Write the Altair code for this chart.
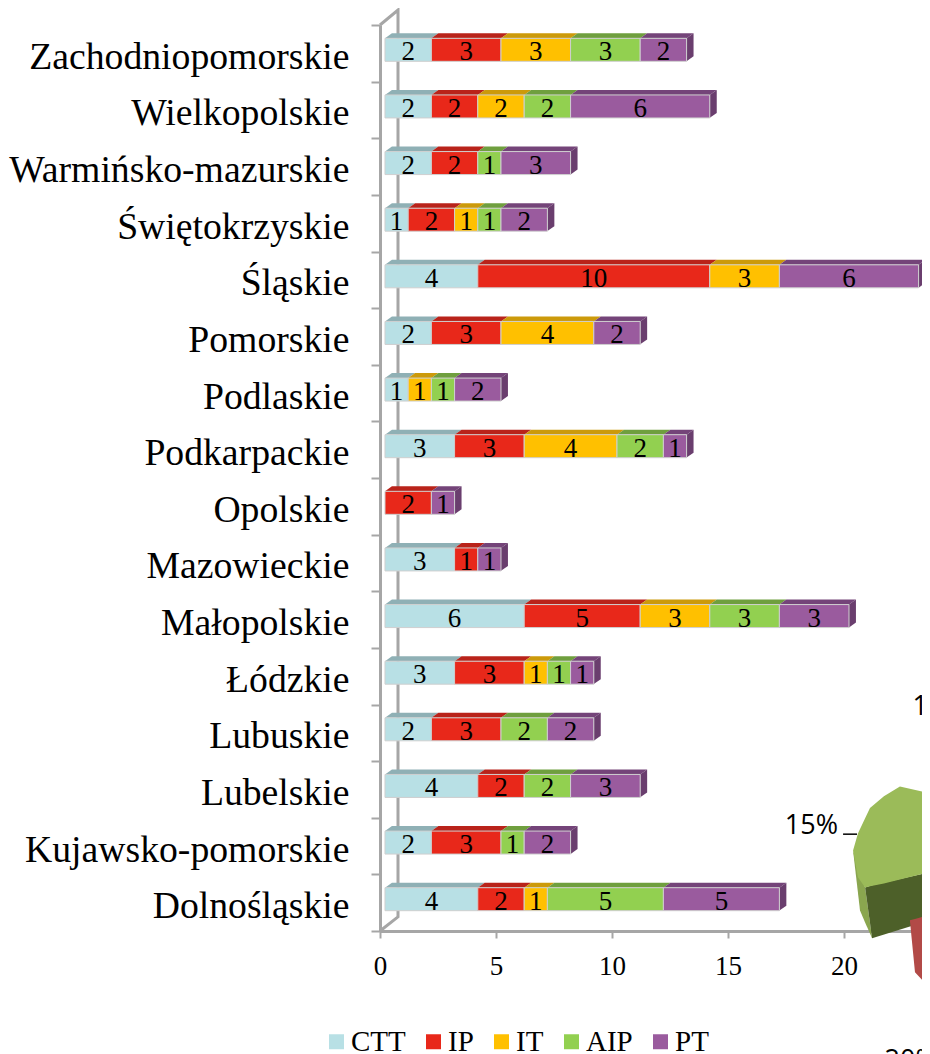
import altair as alt
import pandas as pd

regions = ["Zachodniopomorskie", "Wielkopolskie", "Warmińsko-mazurskie", "Świętokrzyskie",
           "Śląskie", "Pomorskie", "Podlaskie", "Podkarpackie", "Opolskie", "Mazowieckie",
           "Małopolskie", "Łódzkie", "Lubuskie", "Lubelskie", "Kujawsko-pomorskie", "Dolnośląskie"]
series = ["CTT", "IP", "IT", "AIP", "PT"]
ctt = [2, 2, 2, 1, 4, 2, 1, 3, 0, 3, 6, 3, 2, 4, 2, 4]
ip = [3, 2, 2, 2, 10, 3, 0, 3, 2, 1, 5, 3, 3, 2, 3, 2]
it = [3, 2, 0, 1, 3, 4, 1, 4, 0, 0, 3, 1, 0, 0, 0, 1]
aip = [3, 2, 1, 1, 0, 0, 1, 2, 0, 0, 3, 1, 2, 2, 1, 5]
pt = [2, 6, 3, 2, 6, 2, 2, 1, 1, 1, 3, 1, 2, 3, 2, 5]
front = ["#b8e0e5", "#e8281a", "#ffc000", "#92d050", "#9a5b9e"]
top = ["#8fb0b5", "#b9231a", "#cc9a0a", "#6f9f3e", "#744479"]
side = ["#7d9ca0", "#a01e16", "#b0860a", "#5f8a35", "#6a3e6e"]

BASE, DX, DY, FT, FB = 0.215, 0.3, 0.088, 0.235, 0.64
AX = "#a6a6a6"
W, H = 542, 906
XMAX = W / 23.2
xs = alt.Scale(domain=[0, XMAX], nice=False, zero=False)
yq = alt.Scale(domain=[0, 16], reverse=True, nice=False, zero=False)
yb = alt.Scale(domain=regions, paddingInner=0, paddingOuter=0)

rows, tops, sides = [], [], []
for i, r in enumerate(regions):
    cum = BASE
    last = None
    for j, (s, vals) in enumerate(zip(series, [ctt, ip, it, aip, pt])):
        v = vals[i]
        if v == 0:
            continue
        a, b = cum, cum + v
        cum = b
        last = j
        rows.append(dict(region=r, series=s, value=v, x0=a, x1=b, xm=(a + b) / 2))
        sid = f"{i}-{j}"
        tops.append(dict(id=sid, c=top[j], yy=i + FT, xa=a, xb=b))
        tops.append(dict(id=sid, c=top[j], yy=i + FT - DY, xa=a + DX, xb=b + DX))
    sides.append(dict(id=str(i), c=side[last], xx=cum, ya=i + FT, yb=i + FB))
    sides.append(dict(id=str(i), c=side[last], xx=cum + DX, ya=i + FT - DY, yb=i + FB - DY))
df, tf, sf = pd.DataFrame(rows), pd.DataFrame(tops), pd.DataFrame(sides)

# back wall of the 3D axes
wall_x = [0, 0.776, 0.776, 0]
wall_y = [0, -0.265, 15.75, 16]
wall = alt.Chart(pd.DataFrame(dict(x=wall_x, y=wall_y, o=range(4)))).mark_line(
    color=AX, strokeWidth=3).encode(
    x=alt.X("x:Q", scale=xs, axis=None), y=alt.Y("y:Q", scale=yq, axis=None), order="o:O")

tops_l = alt.Chart(tf).mark_area(orient="horizontal").encode(
    y=alt.Y("yy:Q", scale=yq, axis=None),
    x=alt.X("xa:Q", scale=xs, axis=None, stack=None), x2="xb:Q",
    color=alt.Color("c:N", scale=None), detail="id:N")
sides_l = alt.Chart(sf).mark_area(orient="vertical").encode(
    x=alt.X("xx:Q", scale=xs, axis=None),
    y=alt.Y("ya:Q", scale=yq, axis=None, stack=None), y2="yb:Q",
    color=alt.Color("c:N", scale=None), detail="id:N")

bars = alt.Chart(df).mark_bar(size=23, yOffset=-3.5, stroke="#cfcfcf", strokeWidth=1).encode(
    x=alt.X("x0:Q", scale=xs, axis=alt.Axis(
        values=[0, 5, 10, 15, 20], title=None, grid=False, domain=True, ticks=True,
        domainColor=AX, domainWidth=3,
        tickColor=AX, tickWidth=2, tickSize=7, labelFont="Liberation Serif", labelFontSize=27,
        labelColor="black", labelPadding=15, labelFlush=False)),
    x2="x1:Q",
    y=alt.Y("region:N", scale=yb, sort=regions, axis=alt.Axis(
        title=None, grid=False, tickBand="extent", domain=True, ticks=True,
        domainColor=AX, domainWidth=3,
        tickColor=AX, tickWidth=2, tickSize=9, labelFont="Liberation Serif", labelFontSize=37.7,
        labelColor="black", labelPadding=22, labelLimit=400, labelOffset=4)),
    color=alt.Color("series:N", scale=alt.Scale(domain=series, range=front), legend=alt.Legend(
        orient="none", legendX=-58, legendY=1002, direction="horizontal", columns=5, title=None,
        padding=0, symbolType="square", symbolSize=225, symbolStrokeWidth=0, symbolOpacity=1,
        labelFont="Liberation Serif", labelFontSize=29, labelColor="black", labelOffset=0,
        columnPadding=13)),
    order=alt.Order("x0:Q"))

labels = alt.Chart(df).mark_text(font="Liberation Serif", fontSize=27, color="black", dy=-1).encode(
    x=alt.X("xm:Q", scale=xs, axis=None),
    y=alt.Y("region:N", scale=yb, sort=regions, axis=None),
    text="value:Q")


def poly(xv, up, lo, colour):
    d = pd.DataFrame(dict(x=xv, up=up, lo=lo))
    return alt.Chart(d).mark_area(color=colour, orient="vertical").encode(
        x=alt.X("x:Q", scale=xs, axis=None),
        y=alt.Y("up:Q", scale=yq, axis=None, stack=None), y2="lo:Q")


# visible fragment of the exploded 3D pie on the right edge
purple_x = [23.45, 23.58, 23.71]
purple_up = [13.11, 13.09, 13.07]
purple_lo = [13.11, 13.55, 13.57]
red_x = [22.84, 23.06, 23.71]
red_up = [15.81, 15.79, 15.71]
red_lo = [15.81, 16.73, 17.01]
lip_x = [20.39, 20.69, 20.91, 21.21]
lip_up = [14.58, 14.95, 15.23, 16.13]
lip_lo = [14.58, 15.64, 15.85, 16.13]
dark_x = [20.91, 21.21, 23.71]
dark_up = [15.23, 15.19, 14.96]
dark_lo = [15.23, 16.13, 15.81]
green_x = [20.39, 20.60, 20.91, 21.12, 21.72, 22.41, 23.71]
green_up = [14.58, 14.28, 14.01, 13.83, 13.62, 13.45, 13.57]
green_lo = [14.58, 15.05, 15.23, 15.21, 15.16, 15.09, 14.96]

pie = [
    poly(purple_x, purple_up, purple_lo, "#403152"),
    poly(lip_x, lip_up, lip_lo, "#8aa64f"),
    poly(dark_x, dark_up, dark_lo, "#4d6029"),
    poly(green_x, green_up, green_lo, "#9bbb59"),
    poly(red_x, red_up, red_lo, "#b24a47"),
]

pct_text = ["15%", "12%", "20%"]
pct_x = [19.74, 22.95, 21.75]
pct_y = [14.15, 12.05, 18.3]
pct_align = ["right", "left", "left"]
pct = []
for t, px, py, al in zip(pct_text, pct_x, pct_y, pct_align):
    pct.append(alt.Chart(pd.DataFrame(dict(x=[px], y=[py], t=[t]))).mark_text(
        font="Open Sans", fontSize=27, color="black", align=al).encode(
        x=alt.X("x:Q", scale=xs, axis=None), y=alt.Y("y:Q", scale=yq, axis=None), text="t:N"))

leader = alt.Chart(pd.DataFrame(dict(x=[19.96, 20.56], y=[14.29, 14.29]))).mark_line(
    color="black", strokeWidth=1.5).encode(
    x=alt.X("x:Q", scale=xs, axis=None), y=alt.Y("y:Q", scale=yq, axis=None))

chart = alt.layer(wall, tops_l, sides_l, bars, labels, *pie, leader, *pct).resolve_scale(
    y="independent", color="independent"
).resolve_axis(x="independent", y="independent").properties(
    width=W, height=H,
    padding={"left": 372, "top": 17, "right": 0, "bottom": 123},
    autosize=alt.AutoSizeParams(type="none"),
    background="white",
).configure_view(stroke=None)

chart.save("out.html", embed_options={"renderer": "svg", "actions": False})
